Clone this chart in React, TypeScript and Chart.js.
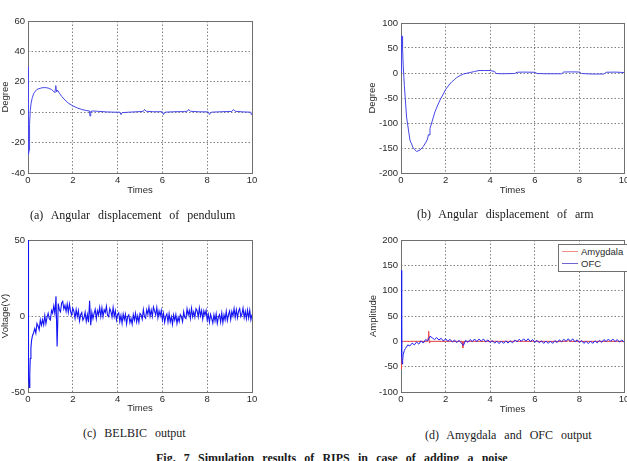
import React, { useEffect, useRef } from "react";
import { Chart, registerables } from "chart.js";

Chart.register(...registerables);

// (a) pendulum angle [deg] vs time [s]
const pendT = [0.005, 0.01, 0.015, 0.02, 0.025, 0.035, 0.05, 0.07, 0.1, 0.14, 0.19, 0.26, 0.4, 0.6, 0.75, 0.9, 1.05, 1.15, 1.2, 1.22, 1.24, 1.26, 1.28, 1.32, 1.4, 1.5, 1.65, 1.8, 2.0, 2.2, 2.4, 2.6, 2.74, 2.77, 2.8, 2.9, 3.1, 3.5, 3.9, 4.1, 4.15, 4.2, 4.5, 5.0, 5.15, 5.2, 5.28, 5.6, 6.0, 6.05, 6.12, 6.5, 7.0, 7.12, 7.17, 7.25, 7.6, 8.05, 8.1, 8.18, 8.6, 9.1, 9.17, 9.25, 9.6, 9.95, 9.97, 10];
const pendDeg = [30, 5, 28, -20, 10, -28, -25, -8, 1, 6, 9.5, 12.5, 15, 16, 16.2, 15.9, 14.9, 13.6, 12.8, 15, 17.5, 14.5, 13.5, 14.5, 12.5, 10.5, 8, 6, 4.2, 2.8, 1.8, 1.1, 0.8, -2.5, 0.5, 0.8, 0.6, 0.2, 0, 0, -1.6, -0.3, 0, 0.4, 0.6, 1.8, 0.6, 0.3, 0.3, -1.5, 0, 0.3, 0.4, 0.7, 1.8, 0.6, 0.3, 0.2, -1.5, 0, 0.3, 0.5, 1.8, 0.6, 0.2, 0, -1.6, -1];

// (b) arm angle [deg] vs time [s]
const armT = [0.005, 0.012, 0.02, 0.03, 0.04, 0.05, 0.07, 0.1, 0.15, 0.25, 0.4, 0.55, 0.7, 0.85, 1.0, 1.15, 1.2, 1.23, 1.26, 1.3, 1.4, 1.52, 1.65, 1.75, 1.9, 2.0, 2.15, 2.27, 2.4, 2.5, 2.65, 2.8, 3.0, 3.1, 3.3, 3.5, 3.75, 4.0, 4.2, 4.25, 4.5, 5.1, 5.2, 5.5, 6.0, 6.1, 6.5, 7.2, 7.3, 7.6, 8.0, 8.1, 8.5, 9.1, 9.2, 9.6, 10];
const armDeg = [0, 72, 35, 75, 45, 73, 50, 15, -25, -88, -134, -150, -157, -154, -147, -136, -130, -123, -124, -111, -96, -78, -64, -54, -42, -33, -24, -18, -13, -9, -5, -2, 0, 1, 3, 5, 5, 5, 3, -1, -1.5, -1, 1.5, 1.8, 1.5, -1, -1.5, -1.5, 2, 2.2, 2, -1, -2, -2, 1.5, 1.8, 1];

// (c) BELBIC control voltage: start-up transient, then a 0.05 s record from 0.3 s
const belbicStartT = [0.005, 0.012, 0.02, 0.035, 0.055, 0.08, 0.1, 0.13, 0.16, 0.2, 0.25];
const belbicStartV = [50, -10, 30, -40, -47, -38, -28, -21, -16, -13, -11];
const belbicFrom = 0.3;
const belbicStep = 0.05;
const belbicV = [
  -8.3, -11.3, -5, -6.6, -9.1, -2.6, -6.1, -2.4, -5.9, 0.3,
  -5.1, -0.8, 1.8, -1.8, -2.6, 3.7, 1.9, 6.6, 1.5, 13,
  -20, 8.2, 4, 2.7, 8.4, 9.6, 4.6, 7, 3, 7.9,
  2.4, 7.9, 3.1, 0.6, 5.1, 3.1, -1.5, 4.2, -0.4, 3.5,
  -3.2, 0.8, 2.3, -2.7, -1.2, 2.5, -3.5, 0.9, -4.1, 10,
  -6, 2.5, -1.8, 1.8, 4.4, -1.9, 3.5, 0.8, 5.7, -0.2,
  5.4, -0.4, 4.1, 2.3, 6.4, 0.5, -0.4, 4.9, 3.1, -0.6,
  5.6, -0.3, 3.4, -2.7, 0.9, 2.1, -3.7, 0.4, -4.8, 1.3,
  -2.4, 1.2, -5.3, -0.5, 0.7, -4.4, -1.6, -5.4, 0.9, -2.8,
  1.8, -3.9, 0.1, -4.1, 1.7, 0.7, -2.1, 4.2, -0.4, -1.5,
  4.1, 1.1, 5.8, -0.2, 4, -0.3, 5.9, 3.4, 0.6, 5.6,
  -1.1, 3.3, 0, 3.7, -2.6, 1.8, -4.2, -0.2, 1.4, -4,
  1.5, -3.9, -0.5, -5.5, 0.7, -2.8, 1, -5, -0.9, -3.7,
  0.9, -0.5, -3.7, 2.9, -1, -1.7, 4.7, 0.6, 3.7, -1.5,
  5.1, -0.4, 2.8, -0.8, 4.8, 3.5, -0.7, 5.3, 0.1, 3.6,
  -2, 3.4, 0.5, 3.6, -2.7, 1.1, -4, 1, -1.6, -4.6,
  0.8, -3.3, 1.4, -4.9, -0.7, 0.9, -3.9, 1.9, -4.4, 0.8,
  -2.6, 3, -2.9, 0.9, 3.3, -2.4, 3, -0.1, 4.9, -0.9,
  4.1, -1.1, 3.2, 4.9, -0.4, 1.3, 5.2, -1, 3.1, -1.8,
  3.9, -1.2, 3.8, -2.5, 1,
];

// (d) OFC output: start-up transient, then a 0.1 s record from 0.3 s
const ofcStartT = [0.015, 0.022, 0.03, 0.04, 0.055, 0.075, 0.1, 0.15, 0.2, 0.25];
const ofcStartV = [140, 20, 100, -30, -45, -38, -26, -18, -14, -11];
const ofcFrom = 0.3;
const ofcStep = 0.1;
const ofcV = [
  -7, -9, -3.5, -7, -1.5, -5.5, 1, -3.5, 3.5, 1,
  10, 7, 3.5, 7.5, 2.5, 6, 0.5, 5, 0, 4,
  -1.5, 2.5, -2.5, 2, -3, -8, 2, -2, 3.5, -0.5,
  4.5, -0.5, 4.5, 0.5, 4.5, -1, 3, -2.5, 1.5, -3.5,
  0.5, -4.5, 0.5, -4, 1, -3.5, 1, -3, 2.5, -1,
  4, 0, 5, 0.5, 5, -0.5, 3.5, -2, 2, -3,
  1, -4, 0.5, -4, 0.5, -4, 1.5, -2.5, 3, -1,
  4, 0, 5, 0, 5, -1, 3, -2.5, 1.5, -4,
  0, -4.5, 0.5, -4, 1, -3, 2, -2, 3.5, -0.5,
  4.5, 0, 4.5, -0.5, 3.5, -1.5, 2.5, -1.5,
];

// (d) Amygdala output
const amyT = [0.005, 0.012, 0.02, 0.03, 0.05, 0.1, 1.2, 1.22, 1.24, 1.27, 1.3, 2.74, 2.77, 2.8, 2.85, 4.0, 4.05, 4.1, 5.1, 5.15, 5.2, 7.45, 7.5, 7.55, 10];
const amyV = [0, -55, -20, -5, 0, 0, 0, 8, 20, -3, 0, 0, -13, 0, 0, 0, 1, 0, 0, 2, 0, 0, 1.5, 0, 0];

const timeTicks = { min: 0, max: 10, step: 2 };

const SANS = '"Liberation Sans", Arial, sans-serif';
const SERIF = '"Liberation Serif", "Times New Roman", serif';
const TEXT = "#2a2a2a";
const GRID = "rgba(70,70,70,0.85)";
const axisFont = { family: SANS, size: 9.5 };

type Pt = { x: number; y: number };

function pairs(t: number[], v: number[]): Pt[] {
  return t.map((x, i) => ({ x, y: v[i] }));
}

function sampled(from: number, step: number, v: number[]): Pt[] {
  return v.map((y, i) => ({ x: +(from + i * step).toFixed(3), y }));
}

// Axes box, drawn under the traces so start-up spikes stay visible
const framePlugin = {
  id: "frame",
  beforeDatasetsDraw(chart: any) {
    const { ctx, chartArea: a } = chart;
    ctx.save();
    ctx.strokeStyle = "#6f6f6f";
    ctx.lineWidth = 1;
    ctx.setLineDash([]);
    ctx.strokeRect(
      Math.round(a.left) + 0.5,
      Math.round(a.top) + 0.5,
      Math.round(a.right - a.left),
      Math.round(a.bottom - a.top)
    );
    ctx.restore();
  },
};

type Series = { data: Pt[]; color: string; width?: number };

type PanelProps = {
  left: number;
  top: number;
  width: number;
  height: number;
  padTop: number;
  padRight: number;
  yAxisWidth: number;
  xAxisHeight: number;
  yMin: number;
  yMax: number;
  yStep: number;
  yTitle: string;
  yTitleInset: number;
  xTitleInset: number;
  series: Series[];
};

function Panel(p: PanelProps) {
  const ref = useRef<HTMLCanvasElement | null>(null);

  useEffect(() => {
    if (!ref.current) return;
    const chart = new Chart(ref.current, {
      type: "line",
      data: {
        datasets: p.series.map((s) => ({
          data: s.data,
          borderColor: s.color,
          borderWidth: s.width ?? 1,
          pointRadius: 0,
          tension: 0,
          fill: false,
        })),
      },
      options: {
        animation: false,
        responsive: false,
        devicePixelRatio: 1,
        events: [],
        layout: { padding: { top: p.padTop, right: p.padRight, left: 0, bottom: 0 } },
        plugins: { legend: { display: false }, tooltip: { enabled: false } },
        scales: {
          x: {
            type: "linear",
            min: timeTicks.min,
            max: timeTicks.max,
            ticks: {
              stepSize: timeTicks.step,
              font: axisFont,
              color: TEXT,
              padding: 2,
              maxRotation: 0,
              autoSkip: false,
            },
            grid: { color: GRID, lineWidth: 0.8, drawTicks: false },
            border: { display: false, dash: [1.5, 2] },
            title: {
              display: true,
              text: "Times",
              font: axisFont,
              color: TEXT,
              padding: { top: 0, bottom: p.xTitleInset },
            },
            afterFit: (s: any) => {
              s.height = p.xAxisHeight;
            },
          },
          y: {
            type: "linear",
            min: p.yMin,
            max: p.yMax,
            ticks: {
              stepSize: p.yStep,
              font: axisFont,
              color: TEXT,
              padding: 3,
              autoSkip: false,
            },
            grid: { color: GRID, lineWidth: 0.8, drawTicks: false },
            border: { display: false, dash: [1.5, 2] },
            title: {
              display: true,
              text: p.yTitle,
              font: axisFont,
              color: TEXT,
              padding: { top: p.yTitleInset, bottom: 0 },
            },
            afterFit: (s: any) => {
              s.width = p.yAxisWidth;
            },
          },
        },
      } as any,
      plugins: [framePlugin],
    });
    return () => chart.destroy();
  }, []);

  return (
    <canvas
      ref={ref}
      width={p.width}
      height={p.height}
      style={{ position: "absolute", left: p.left, top: p.top, width: p.width, height: p.height }}
    />
  );
}

const captionStyle: React.CSSProperties = {
  position: "absolute",
  fontFamily: SERIF,
  fontSize: 12,
  lineHeight: "12px",
  wordSpacing: 5,
  color: "#1a1a1a",
  whiteSpace: "nowrap",
};

export default function App() {
  const belbic = [...pairs(belbicStartT, belbicStartV), ...sampled(belbicFrom, belbicStep, belbicV)];
  const ofc = [...pairs(ofcStartT, ofcStartV), ...sampled(ofcFrom, ofcStep, ofcV)];

  return (
    <div
      style={{
        position: "fixed",
        left: 0,
        top: 0,
        width: 627,
        height: 461,
        overflow: "hidden",
        background: "#fff",
      }}
    >
      <Panel
        left={0} top={0} width={270} height={200}
        padTop={21} padRight={18} yAxisWidth={28} xAxisHeight={27}
        yMin={-40} yMax={60} yStep={20}
        yTitle="Degree" yTitleInset={0} xTitleInset={4.3}
        series={[{ data: pairs(pendT, pendDeg), color: "rgb(70,70,232)" }]}
      />
      <Panel
        left={340} top={0} width={300} height={200}
        padTop={23} padRight={16} yAxisWidth={61} xAxisHeight={27}
        yMin={-200} yMax={100} yStep={50}
        yTitle="Degree" yTitleInset={26.3} xTitleInset={4.3}
        series={[{ data: pairs(armT, armDeg), color: "rgb(70,70,232)" }]}
      />
      <Panel
        left={0} top={220} width={270} height={200}
        padTop={20} padRight={18} yAxisWidth={28} xAxisHeight={28}
        yMin={-50} yMax={50} yStep={50}
        yTitle="Voltage(V)" yTitleInset={0} xTitleInset={5.8}
        series={[{ data: belbic, color: "rgb(20,20,245)", width: 1.1 }]}
      />
      <Panel
        left={340} top={220} width={300} height={200}
        padTop={20} padRight={16} yAxisWidth={61} xAxisHeight={28}
        yMin={-100} yMax={200} yStep={50}
        yTitle="Amplitude" yTitleInset={27.3} xTitleInset={5.3}
        series={[
          { data: ofc, color: "rgb(30,30,240)" },
          { data: pairs(amyT, amyV), color: "rgb(240,70,70)" },
        ]}
      />

      <div
        style={{
          position: "absolute",
          left: 558,
          top: 244,
          width: 80,
          height: 28,
          boxSizing: "border-box",
          border: "1px solid #6f6f6f",
          background: "#fff",
          fontFamily: SANS,
          fontSize: 9.5,
          color: TEXT,
        }}
      >
        {[
          { label: "Amygdala", color: "rgb(245,140,140)", y: 6 },
          { label: "OFC", color: "rgb(110,100,210)", y: 18 },
        ].map((item) => (
          <div key={item.label} style={{ position: "absolute", left: 3, top: item.y - 6, height: 12, display: "flex", alignItems: "center" }}>
            <span style={{ display: "inline-block", width: 16, height: 1, background: item.color, marginRight: 3 }} />
            <span>{item.label}</span>
          </div>
        ))}
      </div>

      <div style={{ ...captionStyle, left: 30, top: 209 }}>(a) Angular displacement of pendulum</div>
      <div style={{ ...captionStyle, left: 417, top: 208 }}>(b) Angular displacement of arm</div>
      <div style={{ ...captionStyle, left: 83, top: 427 }}>(c) BELBIC output</div>
      <div style={{ ...captionStyle, left: 425, top: 429 }}>(d) Amygdala and OFC output</div>
      <div style={{ ...captionStyle, left: 156, top: 452, fontWeight: "bold", wordSpacing: 5.2 }}>
        Fig. 7 Simulation results of RIPS in case of adding a noise
      </div>
    </div>
  );
}
